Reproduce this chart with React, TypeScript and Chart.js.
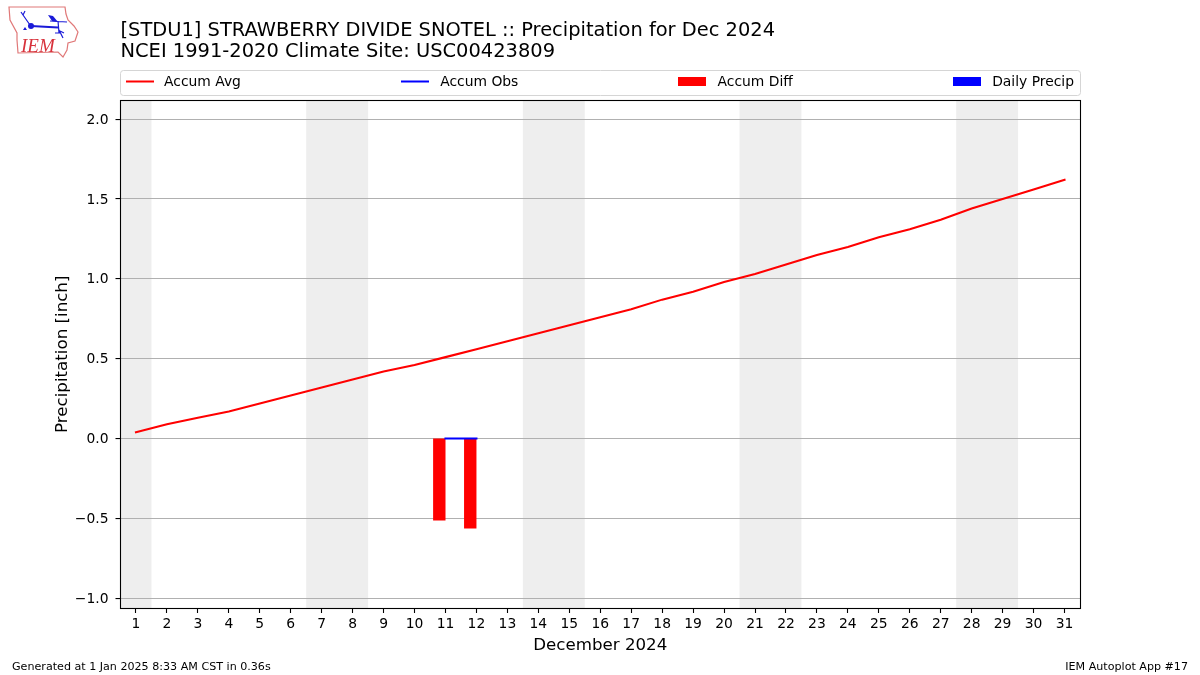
import React, { useEffect, useRef } from "react";
import { Chart, registerables } from "chart.js";

Chart.register(...registerables);

const FONT = "'DejaVu Sans', sans-serif";
const titleLines = [
  "[STDU1] STRAWBERRY DIVIDE SNOTEL :: Precipitation for Dec 2024",
  "NCEI 1991-2020 Climate Site: USC00423809",
];
const days = Array.from({ length: 31 }, (_, i) => i + 1);
const accumAvg = [
  0.04, 0.09, 0.13, 0.17, 0.22, 0.27, 0.32, 0.37, 0.42, 0.46, 0.51, 0.56, 0.61, 0.66, 0.71, 0.76,
  0.81, 0.87, 0.92, 0.98, 1.03, 1.09, 1.15, 1.2, 1.26, 1.31, 1.37, 1.44, 1.5, 1.56, 1.62,
];
const obsDays = [11, 12];
const accumObs = [0, 0];
const accumDiff = [-0.51, -0.56];
const dailyPrecip = [0, 0];
const weekendSpans = [
  [0.5, 1.5],
  [6.5, 8.5],
  [13.5, 15.5],
  [20.5, 22.5],
  [27.5, 29.5],
];
const yTicks = [-1, -0.5, 0, 0.5, 1, 1.5, 2];
const yTickMin = -1.061;
const yTickMax = 2.117;
const xLabel = "December 2024";
const yLabel = "Precipitation [inch]";
const footerLeft = "Generated at 1 Jan 2025 8:33 AM CST in 0.36s";
const footerRight = "IEM Autoplot App #17";
const BAR_SPAN = 0.4;

const decorPlugin = {
  id: "decor",
  beforeDraw(chart: any) {
    const { ctx, chartArea: a, scales } = chart;
    ctx.save();
    ctx.fillStyle = "#ffffff";
    ctx.fillRect(0, 0, chart.width, chart.height);
    ctx.fillStyle = "#eeeeee";
    for (const [s, e] of weekendSpans) {
      const x0 = scales.x.getPixelForValue(s);
      const x1 = scales.x.getPixelForValue(e);
      ctx.fillRect(x0, a.top, x1 - x0, a.bottom - a.top);
    }
    ctx.restore();
    // y tick labels sit one pixel lower than Chart.js centres them
    for (const item of scales.y.getLabelItems(a)) {
      if (!item.options.__moved) {
        item.options.translation = [item.options.translation[0], item.options.translation[1] + 1];
        item.options.__moved = true;
      }
    }
  },
  afterDraw(chart: any) {
    const { ctx, chartArea: a } = chart;
    ctx.save();
    ctx.strokeStyle = "#000000";
    ctx.lineWidth = 1.1;
    ctx.strokeRect(
      Math.floor(a.left) + 0.5,
      Math.floor(a.top) + 0.5,
      Math.round(a.right - a.left),
      Math.round(a.bottom - a.top)
    );

    // legend frame, expanded across the axes width
    const bx = 120.5, by = 70.5, bw = 960, bh = 25;
    ctx.strokeStyle = "#d5d5d5";
    ctx.lineWidth = 1;
    ctx.beginPath();
    ctx.roundRect(bx, by, bw, bh, 3);
    ctx.stroke();

    ctx.font = `13.89px ${FONT}`;
    ctx.textBaseline = "middle";
    ctx.textAlign = "left";
    const sets = chart.data.datasets.filter((d: any) => d.label);
    const order = ["Accum Avg", "Accum Obs", "Accum Diff", "Daily Precip"];
    const items = order.map((n) => sets.find((d: any) => d.label === n));
    const widths = items.map((d: any) => 28 + 10 + ctx.measureText(d.label).width);
    const total = widths.reduce((p: number, c: number) => p + c, 0);
    const gap = (1074 - 126 - total) / (items.length - 1);
    let x = 126;
    const cy = 81.5;
    items.forEach((d: any, i: number) => {
      const mx = i === 0 ? x : Math.floor(x) - 1;
      if (d.type === "line") {
        ctx.strokeStyle = d.borderColor;
        ctx.lineWidth = 2;
        ctx.beginPath();
        ctx.moveTo(mx, cy);
        ctx.lineTo(mx + 28, cy);
        ctx.stroke();
      } else {
        ctx.fillStyle = d.backgroundColor;
        ctx.fillRect(mx, cy - 4.5, 28, 9);
      }
      ctx.fillStyle = "#000000";
      ctx.fillText(d.label, x + 38, cy + 0.5);
      x += widths[i] + gap;
    });

    ctx.font = `11.11px ${FONT}`;
    ctx.fillStyle = "#000000";
    ctx.textAlign = "left";
    ctx.fillText(footerLeft, 12, 667);
    ctx.textAlign = "right";
    ctx.fillText(footerRight, 1188, 667);
    ctx.restore();
  },
};

function Logo() {
  return (
    <svg
      width={90}
      height={62}
      viewBox="0 0 90 62"
      style={{ position: "absolute", left: 0, top: 0 }}
    >
      <path
        d="M9 7 L65 7 L66 14 L68 20 L74 26 L78 32 L75 41 L68 43 L67 50 L63 57 L58 52 L18 53 L17 40 L17 33 L10 20 Z"
        fill="#ffffff"
        stroke="#e07878"
        strokeWidth={1.2}
      />
      <g stroke="#1a1ad8" fill="none">
        <path d="M31 26 L58 27.5" strokeWidth={2.2} />
        <path d="M30 25 L23 15 L21 12 M23 15 L25 11" strokeWidth={1.2} />
        <path d="M50 21 L67 22 M58 21 L59 33 M59 30 L63 38 M55 33 L60 33 M60 31 L64 33" strokeWidth={1.2} />
      </g>
      <circle cx={31} cy={26} r={3} fill="#1a1ad8" />
      <path d="M48 15 L53 16 L58 22 L52 21 Z" fill="#1a1ad8" />
      <path d="M23 30 L25 27 L27 30 Z" fill="#1a1ad8" />
      <text
        x={21}
        y={52}
        fill="#d8323c"
        style={{ fontFamily: "'Liberation Serif', serif", fontStyle: "italic", fontSize: 19 }}
      >
        IEM
      </text>
    </svg>
  );
}

export default function App() {
  const ref = useRef<HTMLCanvasElement>(null);

  useEffect(() => {
    document.body.style.margin = "0";
    const chart = new Chart(ref.current as HTMLCanvasElement, {
      type: "bar",
      data: {
        datasets: [
          {
            type: "line",
            label: "Accum Avg",
            data: days.map((d, i) => ({ x: d, y: accumAvg[i] })),
            borderColor: "#ff0000",
            borderWidth: 2.08,
            pointRadius: 0,
            tension: 0,
            borderCapStyle: "square",
            order: 1,
          },
          {
            type: "line",
            label: "Accum Obs",
            data: obsDays.map((d, i) => ({ x: d, y: accumObs[i] })),
            borderColor: "#0000ff",
            borderWidth: 2.08,
            pointRadius: 0,
            tension: 0,
            borderCapStyle: "square",
            order: 0,
          },
          {
            type: "bar",
            label: "Accum Diff",
            data: obsDays.map((d, i) => ({ x: d - BAR_SPAN / 2, y: accumDiff[i] })),
            backgroundColor: "#ff0000",
            barThickness: 11.4,
            grouped: false,
            inflateAmount: 0.5,
            order: 2,
          },
          {
            type: "bar",
            label: "Daily Precip",
            data: obsDays.map((d, i) => ({ x: d - BAR_SPAN / 2, y: dailyPrecip[i] })),
            backgroundColor: "#0000ff",
            barThickness: 12.4,
            grouped: false,
            inflateAmount: 0,
            order: 3,
          },
        ],
      } as any,
      options: {
        animation: false,
        responsive: false,
        layout: { padding: { left: 53, right: 120, top: 0, bottom: 19 } },
        plugins: {
          legend: { display: false },
          tooltip: { enabled: false },
          title: {
            display: true,
            text: titleLines,
            align: "start",
            fullSize: false,
            color: "#000000",
            font: { family: FONT, size: 19.44, weight: "normal", lineHeight: 1.08 },
            padding: { top: 20, bottom: 38.5 },
          },
        },
        scales: {
          x: {
            type: "linear",
            offset: false,
            min: 0.5,
            max: 31.5,
            border: { display: false },
            afterBuildTicks(s: any) {
              s.ticks = days.map((d) => ({ value: d }));
            },
            grid: {
              display: true,
              offset: false,
              color: "rgba(0,0,0,0)",
              tickColor: "#000000",
              tickLength: 5,
              tickWidth: 1.1,
            },
            ticks: {
              autoSkip: false,
              maxRotation: 0,
              color: "#000000",
              padding: 3,
              font: { family: FONT, size: 13.89 },
              callback: (v: any) => String(v),
            },
            title: {
              display: true,
              text: xLabel,
              color: "#000000",
              font: { family: FONT, size: 16.67 },
              padding: { top: 2, bottom: 0 },
            },
            afterFit(s: any) {
              s.height = 48;
            },
          },
          y: {
            min: yTickMin,
            max: yTickMax,
            border: { display: false },
            afterBuildTicks(s: any) {
              s.ticks = yTicks.map((v) => ({ value: v }));
            },
            grid: {
              color: "#b0b0b0",
              lineWidth: 1.1,
              tickColor: "#000000",
              tickLength: 5,
              tickWidth: 1.1,
            },
            ticks: {
              color: "#000000",
              padding: 7,
              font: { family: FONT, size: 13.89 },
              callback: (v: any) => Number(v).toFixed(1).replace("-", "\u2212"),
            },
            title: {
              display: true,
              text: yLabel,
              color: "#000000",
              font: { family: FONT, size: 16.67 },
              padding: { top: 0, bottom: 2 },
            },
            afterFit(s: any) {
              s.width = 67.5;
            },
          },
        },
      } as any,
      plugins: [decorPlugin],
    });
    return () => chart.destroy();
  }, []);

  return (
    <div style={{ position: "absolute", left: 0, top: 0, width: 1200, height: 675 }}>
      <canvas ref={ref} width={1200} height={675} style={{ display: "block" }} />
      <Logo />
    </div>
  );
}
